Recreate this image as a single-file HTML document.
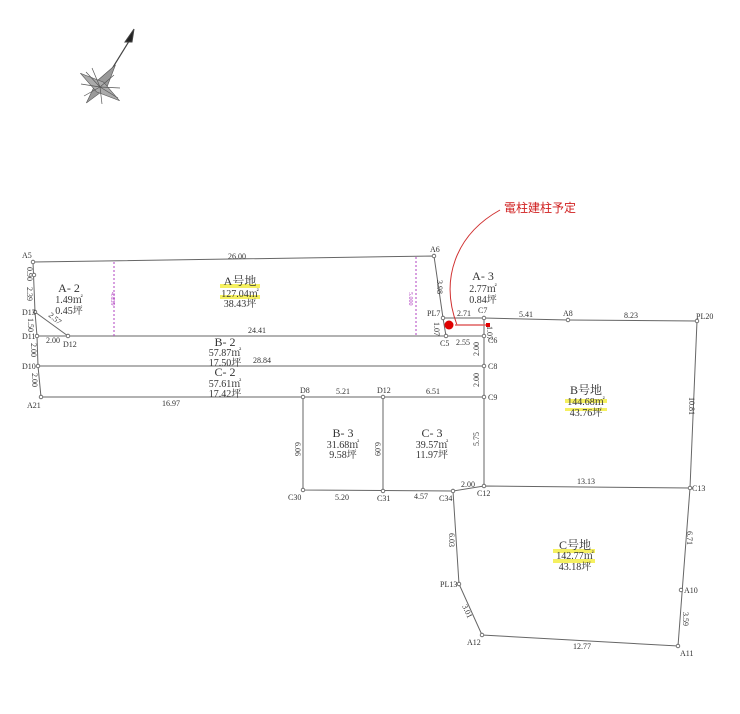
<!DOCTYPE html>
<html><head><meta charset="utf-8"><style>
html,body{margin:0;padding:0;background:#fff;width:740px;height:714px;overflow:hidden}
svg{display:block}
text{font-family:"Liberation Serif","Noto Serif CJK SC",serif;fill:#333}
.s{font-size:8px}
.m{font-size:10px}
.l{font-size:12px}
</style></head><body>
<svg width="740" height="714" viewBox="0 0 740 714" xmlns="http://www.w3.org/2000/svg">
<!-- compass -->
<g stroke="#444" fill="none">
<line x1="102" y1="85" x2="131" y2="38" stroke-width="1.2"/>
<polygon points="134,29 125,42 132,42" fill="#222"/>
<polygon points="100,60 106,84 98,108 94,84" fill="#999" stroke="#555" stroke-width="0.6" transform="rotate(35 100 87)"/>
<polygon points="76,87 100,81 124,87 100,93" fill="#aaa" stroke="#555" stroke-width="0.6" transform="rotate(35 100 87)"/>
<g stroke="#555" stroke-width="0.7">
<line x1="100" y1="87" x2="86" y2="72"/><line x1="100" y1="87" x2="118" y2="98"/>
<line x1="100" y1="87" x2="84" y2="96"/><line x1="100" y1="87" x2="114" y2="75"/>
<line x1="100" y1="87" x2="102" y2="104"/><line x1="100" y1="87" x2="92" y2="68"/>
<line x1="100" y1="87" x2="81" y2="84"/><line x1="100" y1="87" x2="120" y2="88"/>
</g>
</g>
<!-- lines -->
<g stroke="#666" stroke-width="1" fill="none">
<polyline points="33,262 434,256 443,318 446,336"/>
<polyline points="33,262 35,312 37,336 38,366 41,397"/>
<line x1="35" y1="312" x2="68" y2="336"/>
<line x1="37" y1="336" x2="484" y2="336"/>
<polyline points="443,318 484,318 568,320 697,321 690,488 678,646 482,635 459,584 453,491 484,486 690,488"/>
<line x1="484" y1="318" x2="484" y2="486"/>
<line x1="38" y1="366" x2="484" y2="366"/>
<line x1="41" y1="397" x2="484" y2="397"/>
<polyline points="303,397 303,490 453,491"/>
<line x1="383" y1="397" x2="383" y2="491"/>
</g>
<g stroke="#b040c0" stroke-dasharray="2,2" stroke-width="1">
<line x1="114" y1="262" x2="114" y2="336"/>
<line x1="416" y1="257" x2="416" y2="336"/>
</g>
<g fill="#fff" stroke="#555" stroke-width="0.8">
<circle cx="33" cy="262" r="1.8"/><circle cx="434" cy="256" r="1.8"/><circle cx="34" cy="275" r="1.8"/>
<circle cx="35" cy="312" r="1.8"/><circle cx="37" cy="336" r="1.8"/><circle cx="68" cy="336" r="1.8"/>
<circle cx="443" cy="318" r="1.8"/><circle cx="446" cy="336" r="1.8"/><circle cx="484" cy="318" r="1.8"/>
<circle cx="484" cy="336" r="1.8"/><circle cx="568" cy="320" r="1.8"/><circle cx="697" cy="321" r="1.8"/>
<circle cx="38" cy="366" r="1.8"/><circle cx="484" cy="366" r="1.8"/><circle cx="41" cy="397" r="1.8"/>
<circle cx="303" cy="397" r="1.8"/><circle cx="383" cy="397" r="1.8"/><circle cx="484" cy="397" r="1.8"/>
<circle cx="303" cy="490" r="1.8"/><circle cx="383" cy="491" r="1.8"/><circle cx="453" cy="491" r="1.8"/>
<circle cx="484" cy="486" r="1.8"/><circle cx="690" cy="488" r="1.8"/><circle cx="459" cy="584" r="1.8"/>
<circle cx="681" cy="590" r="1.8"/><circle cx="482" cy="635" r="1.8"/><circle cx="678" cy="646" r="1.8"/>
</g>
<!-- red -->
<path d="M457,325 C440,280 455,235 500,210" stroke="#d03030" fill="none" stroke-width="1"/>
<line x1="455" y1="325" x2="488" y2="325" stroke="#e06060" stroke-width="1.5"/>
<circle cx="449" cy="325" r="4.5" fill="#e00000"/>
<rect x="486" y="323" width="4" height="4" fill="#e00000"/>
<text x="504" y="212" style="font-family:'Liberation Sans','Noto Sans CJK JP',sans-serif;font-size:12px;fill:#d02020">電柱建柱予定</text>
<!-- highlights -->
<g fill="#f5f060">
<rect x="220" y="284" width="40" height="4"/><rect x="220" y="295" width="40" height="4"/>
<rect x="565" y="399" width="42" height="4"/><rect x="565" y="408" width="42" height="3"/>
<rect x="553" y="549" width="42" height="4"/><rect x="553" y="559" width="42" height="4"/>
</g>
<!-- labels -->
<g class="s">
<text x="22" y="258">A5</text><text x="430" y="252">A6</text>
<text x="22" y="315">D13</text><text x="22" y="339">D11</text><text x="63" y="347">D12</text>
<text x="46" y="343">2.00</text><text x="22" y="369">D10</text><text x="27" y="408">A21</text>
<text x="427" y="316">PL7</text><text x="440" y="346">C5</text><text x="457" y="316">2.71</text>
<text x="478" y="313">C7</text><text x="456" y="345">2.55</text><text x="488" y="343">C6</text>
<text x="519" y="317">5.41</text><text x="563" y="316">A8</text><text x="624" y="318">8.23</text>
<text x="696" y="319">PL20</text><text x="488" y="369">C8</text><text x="488" y="400">C9</text>
<text x="228" y="259">26.00</text><text x="248" y="333">24.41</text><text x="253" y="363">28.84</text>
<text x="162" y="406">16.97</text><text x="300" y="393">D8</text><text x="336" y="394">5.21</text>
<text x="377" y="393">D12</text><text x="426" y="394">6.51</text>
<text x="288" y="500">C30</text><text x="335" y="500">5.20</text><text x="377" y="501">C31</text>
<text x="414" y="499">4.57</text><text x="439" y="501">C34</text><text x="461" y="487">2.00</text>
<text x="477" y="496">C12</text><text x="577" y="484">13.13</text><text x="692" y="491">C13</text>
<text x="440" y="587">PL13</text><text x="684" y="593">A10</text><text x="467" y="645">A12</text>
<text x="680" y="656">A11</text><text x="573" y="649">12.77</text>
</g>
<g class="s">
<text transform="translate(27,267) rotate(90)">0.90</text>
<text transform="translate(27,287) rotate(90)">2.39</text>
<text transform="translate(28,318) rotate(90)">1.50</text>
<text transform="translate(31,343) rotate(90)">2.00</text>
<text transform="translate(32,373) rotate(90)">2.00</text>
<text transform="translate(48,316) rotate(40)">2.57</text>
<text transform="translate(437,280) rotate(90)">3.98</text>
<text transform="translate(434,322) rotate(90)">1.07</text>
<text transform="translate(487,326) rotate(90)">1.07</text>
<text transform="translate(479,356) rotate(-90)">2.00</text>
<text transform="translate(479,387) rotate(-90)">2.00</text>
<text transform="translate(479,446) rotate(-90)">5.75</text>
<text transform="translate(295,442) rotate(90)">6.06</text>
<text transform="translate(375,442) rotate(90)">6.09</text>
<text transform="translate(449,533) rotate(90)">6.03</text>
<text transform="translate(462,606) rotate(65)">3.01</text>
<text transform="translate(689,397) rotate(90)">10.81</text>
<text transform="translate(687,531) rotate(90)">6.71</text>
<text transform="translate(683,612) rotate(90)">3.59</text>
<text transform="translate(111,292) rotate(90)" style="fill:#b040c0;font-size:6px">4.839</text>
<text transform="translate(409,292) rotate(90)" style="fill:#b040c0;font-size:6px">5.000</text>
</g>
<g text-anchor="middle">
<text x="69" y="292" class="l">A- 2</text><text x="69" y="303" class="m">1.49㎡</text><text x="69" y="314" class="m">0.45坪</text>
<text x="240" y="285" class="l">A号地</text><text x="240" y="297" class="m">127.04㎡</text><text x="240" y="307" class="m">38.43坪</text>
<text x="483" y="280" class="l">A- 3</text><text x="483" y="292" class="m">2.77㎡</text><text x="483" y="303" class="m">0.84坪</text>
<text x="225" y="346" class="l">B- 2</text><text x="225" y="356" class="m">57.87㎡</text><text x="225" y="366" class="m">17.50坪</text>
<text x="225" y="376" class="l">C- 2</text><text x="225" y="387" class="m">57.61㎡</text><text x="225" y="397" class="m">17.42坪</text>
<text x="343" y="437" class="l">B- 3</text><text x="343" y="448" class="m">31.68㎡</text><text x="343" y="458" class="m">9.58坪</text>
<text x="432" y="437" class="l">C- 3</text><text x="432" y="448" class="m">39.57㎡</text><text x="432" y="458" class="m">11.97坪</text>
<text x="586" y="394" class="l">B号地</text><text x="586" y="405" class="m">144.68㎡</text><text x="586" y="416" class="m">43.76坪</text>
<text x="575" y="549" class="l">C号地</text><text x="575" y="559" class="m">142.77㎡</text><text x="575" y="570" class="m">43.18坪</text>
</g>
</svg>
</body></html>
